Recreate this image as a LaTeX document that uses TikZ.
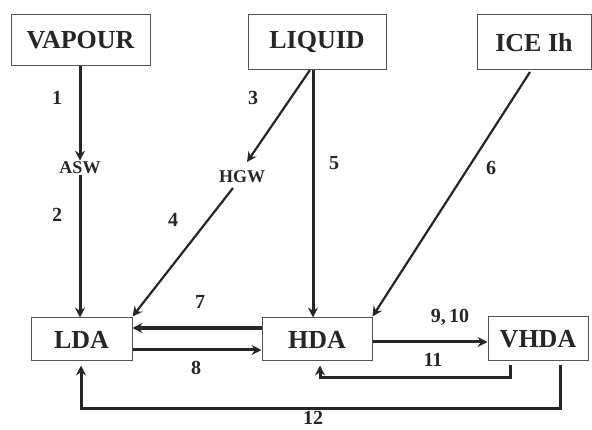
\documentclass[tikz,border=0pt]{standalone}
\usepackage{fontspec}
\setmainfont{Liberation Serif}
\usetikzlibrary{arrows.meta,calc}
\definecolor{ink}{HTML}{262626}
\definecolor{frame}{HTML}{555555}
\tikzset{
  phase/.style={draw=frame, line width=1pt, inner sep=0pt, font=\fontsize{26}{28}\selectfont\bfseries, text=ink},
  glass/.style={inner sep=1pt, font=\fontsize{18}{20}\selectfont\bfseries, text=ink},
  num/.style={inner sep=0pt, font=\fontsize{20}{22}\selectfont\bfseries, text=ink},
  tip/.style={-{Stealth[length=10pt,width=10pt,inset=3.5pt]}},
  route/.style={draw=ink, line width=3pt, tip},
  slim/.style={draw=ink, line width=2.2pt, tip},
  heavy/.style={draw=ink, line width=4.2pt, tip},
}
\begin{document}
\begin{tikzpicture}[x=1pt,y=-1pt]
\useasboundingbox (0,0) rectangle (592,430);

% phases
\node[phase, minimum width=139pt, minimum height=51pt] (vap) at (80.5,40.5) {VAPOUR};
\node[phase, minimum width=138pt, minimum height=55pt] (liq) at (317,42.5) {LIQUID};
\node[phase, minimum width=114pt, minimum height=55pt] (ice) at (534,42.5) {ICE Ih};
\node[phase, minimum width=101pt, minimum height=43pt] (lda) at (81.5,339.5) {LDA};
\node[phase, minimum width=110pt, minimum height=43pt] (hda) at (317,339.5) {HDA};
\node[phase, minimum width=100pt, minimum height=44pt] (vhda) at (538,339) {VHDA};

% intermediate glassy states
\node[glass] (asw) at (80,168) {ASW};
\node[glass] (hgw) at (242,177) {HGW};

% helper points
\coordinate (liqA) at (310,70);
\coordinate (iceA) at (530,72);
\coordinate (hgwIn) at (247,162);
\coordinate (hgwOut) at (233,188);
\coordinate (bend11a) at (510,378);
\coordinate (bend12a) at (560,408);

% vapour route
\draw[route] (vap.south -| asw) -- (asw.north);
\draw[route] (asw.south) -- (lda.north -| asw);

% liquid routes
\draw[route] ([xshift=-4pt]liq.south) -- ([xshift=-4pt]hda.north);
\draw[slim] (liqA) -- (hgwIn);
\draw[slim] (hgwOut) -- ([yshift=1pt]lda.north east);

% ice route
\draw[slim] (iceA) -- ([yshift=1pt]hda.north east);

% amorphous interconversions
\draw[heavy] ([yshift=11.5pt]hda.west) -- ([yshift=11.5pt]lda.east);
\draw[route] ([yshift=-10.5pt]lda.east) -- ([yshift=-10.5pt]hda.west);
\draw[route] ([yshift=-2.5pt]hda.east) -- ([yshift=-3pt]vhda.west);
\draw[route] ([yshift=-4pt]vhda.south -| bend11a) -- (bend11a) -| ([yshift=-4pt]hda.south -| 320,0);
\draw[route] ([yshift=-4pt]vhda.south -| bend12a) -- (bend12a) -| ([yshift=-4pt]lda.south -| 81,0);

% path numbers
\node[num] (n1) at (57,98) {1};
\node[num] (n2) at (57,215) {2};
\node[num] (n3) at (253,98) {3};
\node[num] (n4) at (173,220) {4};
\node[num] (n5) at (334,163) {5};
\node[num] (n6) at (491,168) {6};
\node[num] (n7) at (200,302) {7};
\node[num] (n8) at (196,368) {8};
\node[num] (n9) at (450,317) {9,\,10};
\node[num] (n11) at (433,360) {11};
\node[num] (n12) at (313,418) {12};
\end{tikzpicture}
\end{document}
